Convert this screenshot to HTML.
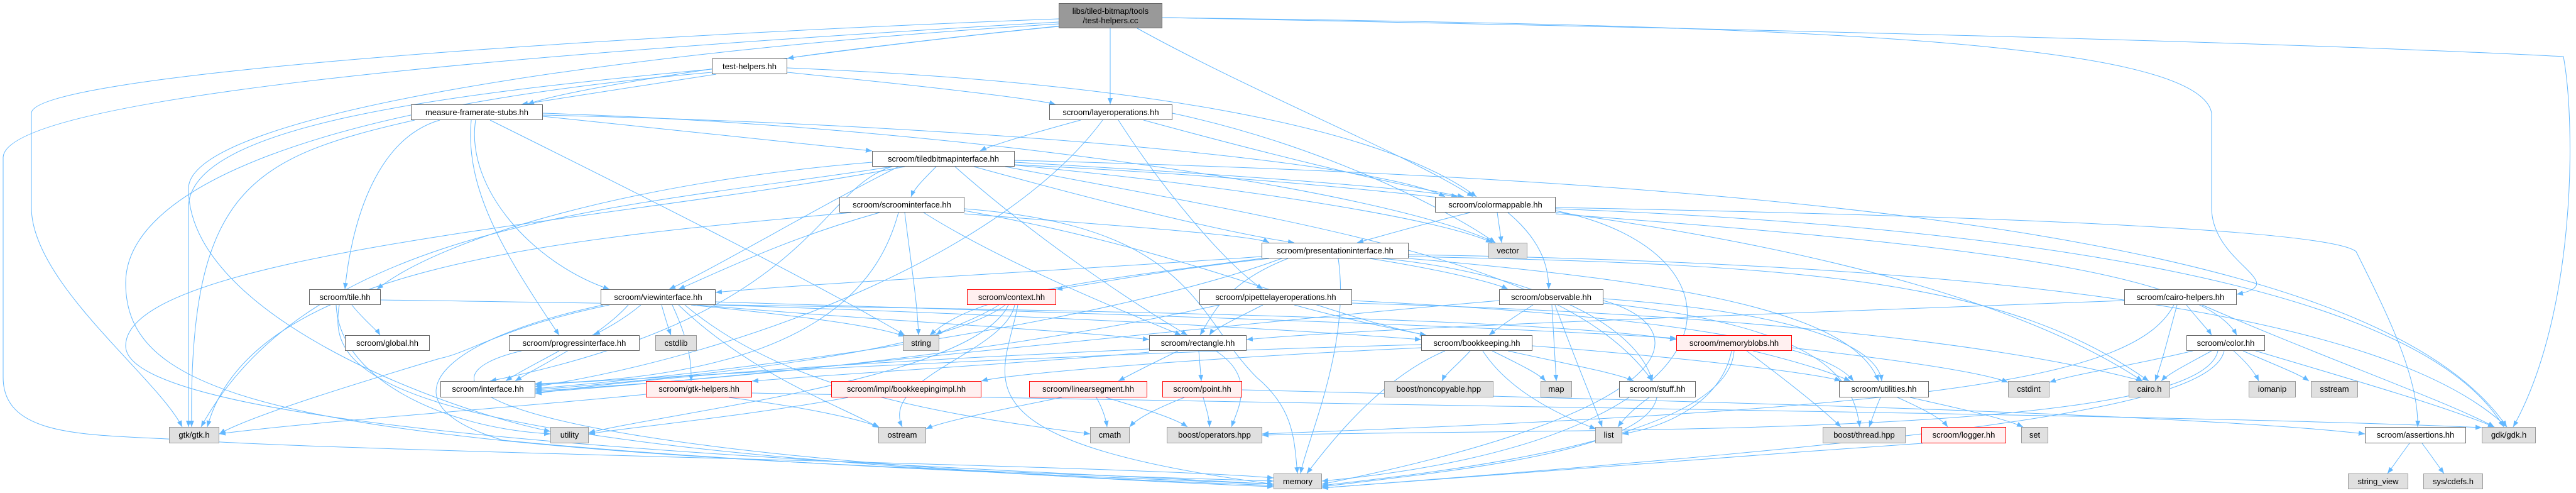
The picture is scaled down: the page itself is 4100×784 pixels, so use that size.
<!DOCTYPE html>
<html><head><meta charset="utf-8"><style>
html,body{margin:0;padding:0;background:#fff;}
#c{position:relative;width:4100px;height:784px;overflow:hidden;background:#fff;}
svg{position:absolute;left:0;top:0;}
.n{position:absolute;box-sizing:border-box;border:1px solid #666;background:#fff;font:13px "Liberation Sans",sans-serif;color:#000;text-align:center;white-space:nowrap;display:flex;align-items:center;justify-content:center;line-height:14px;}
.g{background:#e0e0e0;border-color:#999;}
.r{background:#fff0f0;border-color:#f00;}
.root{background:#999;border-color:#666;}
</style></head><body><div id="c">
<svg width="4100" height="784" viewBox="0 0 4100 784">
<defs><marker id="a" viewBox="0 0 10 10" refX="10" refY="5" markerWidth="10" markerHeight="10" markerUnits="userSpaceOnUse" orient="auto"><path d="M0,1 L10,5 L0,9 z" fill="#63b8ff"/></marker></defs>
<g fill="none" stroke="#63b8ff" stroke-width="1" marker-end="url(#a)">
<path d="M1700,40 C1500,60 1300,85 1253,93"/>
<path d="M1767,45 L1767,166"/>
<path d="M1810,45 C2000,150 2250,250 2345,313"/>
<path d="M1850,28 C2800,40 3500,60 3520,180 L3520,330 C3520,420 3650,450 3560,468"/>
<path d="M1850,28 C3000,50 3700,70 4080,90 C4100,200 4100,500 4000,679"/>
<path d="M1685,30 C900,60 50,120 50,180 L50,330 C50,450 250,600 290,679"/>
<path d="M1685,35 C900,80 10,150 5,250 L5,600 C5,700 150,690 300,700 C600,720 1800,740 2027,760"/>
<path d="M1685,38 C1000,80 300,180 300,300 C300,500 700,650 876,686"/>
<path d="M1685,42 C1300,80 900,140 840,166"/>
<path d="M1140,118 C1000,140 900,155 830,166"/>
<path d="M1253,115 C1500,140 1650,158 1680,166"/>
<path d="M1253,108 C1800,130 2200,200 2350,313"/>
<path d="M1133,110 C700,150 300,200 300,330 L300,679"/>
<path d="M1133,115 C500,170 200,300 200,450 C200,650 500,720 2027,765"/>
<path d="M864,185 C1100,210 1300,230 1388,240"/>
<path d="M700,191 C600,220 560,350 549,460"/>
<path d="M757,191 C740,300 850,420 970,460"/>
<path d="M750,191 C740,300 800,400 890,533"/>
<path d="M660,191 C400,250 300,300 305,679"/>
<path d="M780,191 C1000,300 1300,450 1440,533"/>
<path d="M864,180 C1500,200 2200,300 2380,386"/>
<path d="M864,183 C1600,200 2200,260 2300,313"/>
<path d="M1720,191 C1650,210 1580,230 1560,240"/>
<path d="M1780,191 C1850,300 1950,420 2010,460"/>
<path d="M1755,191 C1600,400 1200,560 852,615"/>
<path d="M1820,191 C2000,240 2200,290 2330,313"/>
<path d="M1866,180 C2100,230 2300,330 2380,386"/>
<path d="M1490,265 C1470,285 1455,300 1450,313"/>
<path d="M1430,265 C1300,330 1150,420 1065,460"/>
<path d="M1550,265 C1750,320 1950,370 2060,386"/>
<path d="M1520,265 C1650,380 1800,480 1890,533"/>
<path d="M1610,262 C2000,300 2300,350 2375,386"/>
<path d="M1615,255 C3000,290 3800,400 3990,679"/>
<path d="M1615,262 C2400,300 3100,400 3410,606"/>
<path d="M1388,258 C1000,290 700,380 600,460"/>
<path d="M1420,265 C1300,300 1300,500 780,606"/>
<path d="M1420,265 C1000,330 500,350 320,679"/>
<path d="M1440,265 C1000,350 200,400 200,550 C200,700 1500,740 2027,770"/>
<path d="M1600,265 C2100,360 2500,420 2630,606"/>
<path d="M1615,258 C2000,280 2250,300 2320,313"/>
<path d="M1400,338 C1250,380 1150,430 1080,460"/>
<path d="M1535,340 C1800,360 2000,375 2020,386"/>
<path d="M1470,338 C1600,420 1800,500 1880,533"/>
<path d="M1440,338 C1450,420 1460,480 1462,533"/>
<path d="M1430,338 C1400,450 1300,600 852,610"/>
<path d="M1355,338 C900,380 400,420 330,679"/>
<path d="M1535,332 C1900,360 1900,500 2000,600 C2060,650 2060,700 2065,753"/>
<path d="M1535,335 C1900,400 2100,500 2270,533"/>
<path d="M2340,338 C2250,360 2200,375 2160,386"/>
<path d="M2383,338 L2390,386"/>
<path d="M2400,338 C2450,380 2465,420 2465,460"/>
<path d="M2476,330 C3000,340 3700,360 3750,400 C3800,500 3850,600 3848,679"/>
<path d="M2476,332 C3200,360 3850,450 3985,679"/>
<path d="M2476,335 C2800,400 2800,700 2104,765"/>
<path d="M2476,340 C3000,380 3500,420 3560,533"/>
<path d="M2008,408 C1700,430 1300,450 1139,465"/>
<path d="M2020,411 C1850,430 1750,450 1681,460"/>
<path d="M2180,411 C2300,430 2380,450 2400,460"/>
<path d="M2050,411 C1950,450 1930,500 1910,533"/>
<path d="M2130,411 C2150,550 2080,700 2070,753"/>
<path d="M2008,411 C1700,450 1550,470 1480,533"/>
<path d="M2040,411 C1800,500 1300,580 852,618"/>
<path d="M2242,405 C3200,420 3800,500 3990,679"/>
<path d="M2242,408 C2900,420 3200,450 3420,606"/>
<path d="M2242,411 C2700,450 2950,500 2990,606"/>
<path d="M2200,411 C2400,430 2600,500 2630,606"/>
<path d="M1590,485 C1550,510 1500,525 1490,533"/>
<path d="M1600,485 C1500,560 1100,600 852,620"/>
<path d="M1615,485 C1600,560 1400,600 1436,679"/>
<path d="M1605,485 C1550,600 1100,650 937,688"/>
<path d="M1620,485 C1600,600 1500,700 2027,770"/>
<path d="M2010,485 C1960,510 1930,525 1925,533"/>
<path d="M1940,485 C1600,560 1200,600 852,622"/>
<path d="M2060,485 C2150,510 2230,525 2270,533"/>
<path d="M2152,478 C2600,500 2900,540 2950,606"/>
<path d="M2152,482 C2800,500 3200,550 3410,606"/>
<path d="M2440,485 C2400,510 2380,525 2370,533"/>
<path d="M2470,485 L2477,606"/>
<path d="M2475,485 C2510,580 2540,650 2550,679"/>
<path d="M2552,478 C2700,520 2700,650 2104,770"/>
<path d="M2552,475 C2900,500 2990,560 2995,606"/>
<path d="M2552,482 C2900,520 2950,600 2960,679"/>
<path d="M2386,478 C1900,520 1200,600 852,624"/>
<path d="M3480,485 C3500,510 3515,525 3520,533"/>
<path d="M3465,485 C3450,540 3440,580 3430,606"/>
<path d="M3505,485 C3700,570 3900,640 3970,679"/>
<path d="M3381,478 C2800,500 2200,520 1984,540"/>
<path d="M3460,485 C3400,600 3100,650 2009,690"/>
<path d="M560,485 C580,510 600,525 605,533"/>
<path d="M606,477 C1500,490 2400,500 2668,540"/>
<path d="M540,485 C520,600 600,720 2027,772"/>
<path d="M535,485 C540,600 700,680 876,690"/>
<path d="M1020,485 C990,510 960,525 945,533"/>
<path d="M1053,485 C1060,510 1065,525 1068,533"/>
<path d="M1070,485 C1100,550 1100,580 1100,606"/>
<path d="M1000,485 C950,540 860,580 820,606"/>
<path d="M1110,485 C1400,510 1700,525 1829,540"/>
<path d="M1100,485 C1300,505 1400,520 1440,535"/>
<path d="M970,485 C800,520 750,560 700,570 C600,600 400,660 349,690"/>
<path d="M1080,485 C1200,600 1350,650 1398,680"/>
<path d="M1090,485 C1250,620 1500,660 1735,690"/>
<path d="M960,485 C700,540 600,640 800,700 C1200,740 1800,760 2027,770"/>
<path d="M1139,485 C1600,500 2000,520 2262,540"/>
<path d="M1139,480 C1800,500 2400,520 2668,538"/>
<path d="M890,558 C850,580 820,595 805,606"/>
<path d="M830,558 C650,600 700,720 2027,774"/>
<path d="M2340,558 C2320,580 2300,595 2295,606"/>
<path d="M2375,558 C2420,580 2450,595 2460,606"/>
<path d="M2400,558 C2500,580 2580,595 2600,606"/>
<path d="M2439,550 C2700,570 2900,595 2930,606"/>
<path d="M2360,558 C2400,620 2480,660 2540,682"/>
<path d="M2300,558 C2200,600 2120,700 2080,753"/>
<path d="M2262,553 C1900,570 1600,595 1562,606"/>
<path d="M2262,548 C1800,560 1200,590 852,612"/>
<path d="M2790,558 C2880,580 2920,595 2945,606"/>
<path d="M2756,558 C2740,640 2650,680 2582,690"/>
<path d="M2760,558 C2750,700 2300,750 2104,772"/>
<path d="M2780,558 C2850,610 2900,650 2930,679"/>
<path d="M2852,553 C3000,570 3150,590 3196,608"/>
<path d="M3490,558 C3400,580 3300,595 3262,608"/>
<path d="M3520,558 C3480,580 3450,595 3440,606"/>
<path d="M3555,558 C3580,580 3590,595 3595,606"/>
<path d="M3570,558 C3620,580 3660,595 3675,606"/>
<path d="M3590,558 C3800,620 3900,650 3970,679"/>
<path d="M3530,558 C3500,700 2500,680 2009,692"/>
<path d="M3540,558 C3520,650 3100,700 2104,776"/>
<path d="M1875,558 C1830,580 1800,595 1780,606"/>
<path d="M1908,558 L1912,606"/>
<path d="M1935,558 C2000,600 1970,650 1960,679"/>
<path d="M1829,555 C1500,570 1100,590 852,626"/>
<path d="M1829,560 C1600,580 1400,590 1197,606"/>
<path d="M1028,627 C800,650 500,670 349,690"/>
<path d="M1160,632 C1300,650 1380,670 1400,680"/>
<path d="M1197,625 C2500,650 3500,660 3950,680"/>
<path d="M1350,632 C1200,660 1000,680 937,690"/>
<path d="M1745,632 C1755,650 1760,665 1762,679"/>
<path d="M1760,632 C1820,650 1870,665 1890,679"/>
<path d="M1690,632 C1600,650 1500,670 1474,682"/>
<path d="M1885,632 C1840,650 1810,665 1798,679"/>
<path d="M1915,632 C1920,650 1925,665 1925,679"/>
<path d="M1977,620 C2800,640 3500,660 3764,690"/>
<path d="M2625,632 C2600,650 2585,665 2575,679"/>
<path d="M2637,632 C2620,720 2300,750 2104,774"/>
<path d="M2993,632 C2985,650 2980,665 2975,679"/>
<path d="M3020,632 C3060,650 3090,665 3100,679"/>
<path d="M3040,632 C3120,650 3190,665 3220,679"/>
<path d="M3060,705 C2700,730 2300,760 2104,776"/>
<path d="M3835,705 C3820,725 3810,740 3800,753"/>
<path d="M3855,705 C3870,725 3880,740 3890,753"/>
</g></svg>
<div class="n root" style="left:1685px;top:5px;width:165px;height:40px;line-height:15px">libs/tiled-bitmap/tools<br>/test-helpers.cc</div>
<div class="n" style="left:1133px;top:93px;width:120px;height:25px">test-helpers.hh</div>
<div class="n" style="left:654px;top:166px;width:210px;height:25px">measure-framerate-stubs.hh</div>
<div class="n" style="left:1670px;top:166px;width:196px;height:25px">scroom/layeroperations.hh</div>
<div class="n" style="left:1388px;top:240px;width:227px;height:25px">scroom/tiledbitmapinterface.hh</div>
<div class="n" style="left:1336px;top:313px;width:199px;height:25px">scroom/scroominterface.hh</div>
<div class="n" style="left:2284px;top:313px;width:192px;height:25px">scroom/colormappable.hh</div>
<div class="n" style="left:2008px;top:386px;width:234px;height:25px">scroom/presentationinterface.hh</div>
<div class="n g" style="left:2369px;top:386px;width:62px;height:25px">vector</div>
<div class="n" style="left:492px;top:460px;width:114px;height:25px">scroom/tile.hh</div>
<div class="n" style="left:956px;top:460px;width:183px;height:25px">scroom/viewinterface.hh</div>
<div class="n r" style="left:1539px;top:460px;width:142px;height:25px">scroom/context.hh</div>
<div class="n" style="left:1909px;top:460px;width:243px;height:25px">scroom/pipettelayeroperations.hh</div>
<div class="n" style="left:2386px;top:460px;width:166px;height:25px">scroom/observable.hh</div>
<div class="n" style="left:3381px;top:460px;width:179px;height:25px">scroom/cairo-helpers.hh</div>
<div class="n" style="left:549px;top:533px;width:135px;height:25px">scroom/global.hh</div>
<div class="n" style="left:810px;top:533px;width:208px;height:25px">scroom/progressinterface.hh</div>
<div class="n g" style="left:1043px;top:533px;width:66px;height:25px">cstdlib</div>
<div class="n g" style="left:1437px;top:533px;width:58px;height:25px">string</div>
<div class="n" style="left:1829px;top:533px;width:155px;height:25px">scroom/rectangle.hh</div>
<div class="n" style="left:2262px;top:533px;width:177px;height:25px">scroom/bookkeeping.hh</div>
<div class="n r" style="left:2668px;top:533px;width:184px;height:25px">scroom/memoryblobs.hh</div>
<div class="n" style="left:3480px;top:533px;width:125px;height:25px">scroom/color.hh</div>
<div class="n" style="left:701px;top:606px;width:151px;height:26px">scroom/interface.hh</div>
<div class="n r" style="left:1028px;top:606px;width:169px;height:26px">scroom/gtk-helpers.hh</div>
<div class="n r" style="left:1323px;top:606px;width:239px;height:26px">scroom/impl/bookkeepingimpl.hh</div>
<div class="n r" style="left:1638px;top:606px;width:188px;height:26px">scroom/linearsegment.hh</div>
<div class="n r" style="left:1850px;top:606px;width:127px;height:26px">scroom/point.hh</div>
<div class="n g" style="left:2203px;top:606px;width:174px;height:26px">boost/noncopyable.hpp</div>
<div class="n g" style="left:2452px;top:606px;width:50px;height:26px">map</div>
<div class="n" style="left:2577px;top:606px;width:122px;height:26px">scroom/stuff.hh</div>
<div class="n" style="left:2927px;top:606px;width:143px;height:26px">scroom/utilities.hh</div>
<div class="n g" style="left:3196px;top:606px;width:66px;height:26px">cstdint</div>
<div class="n g" style="left:3388px;top:606px;width:66px;height:26px">cairo.h</div>
<div class="n g" style="left:3579px;top:606px;width:75px;height:26px">iomanip</div>
<div class="n g" style="left:3678px;top:606px;width:75px;height:26px">sstream</div>
<div class="n g" style="left:269px;top:679px;width:80px;height:26px">gtk/gtk.h</div>
<div class="n g" style="left:876px;top:679px;width:61px;height:26px">utility</div>
<div class="n g" style="left:1398px;top:679px;width:76px;height:26px">ostream</div>
<div class="n g" style="left:1735px;top:679px;width:63px;height:26px">cmath</div>
<div class="n g" style="left:1857px;top:679px;width:152px;height:26px">boost/operators.hpp</div>
<div class="n g" style="left:2539px;top:679px;width:43px;height:26px">list</div>
<div class="n g" style="left:2901px;top:679px;width:132px;height:26px">boost/thread.hpp</div>
<div class="n r" style="left:3058px;top:679px;width:135px;height:26px">scroom/logger.hh</div>
<div class="n g" style="left:3217px;top:679px;width:43px;height:26px">set</div>
<div class="n" style="left:3764px;top:679px;width:161px;height:26px">scroom/assertions.hh</div>
<div class="n g" style="left:3950px;top:679px;width:86px;height:26px">gdk/gdk.h</div>
<div class="n g" style="left:2027px;top:753px;width:77px;height:25px">memory</div>
<div class="n g" style="left:3737px;top:753px;width:96px;height:25px">string_view</div>
<div class="n g" style="left:3857px;top:753px;width:95px;height:25px">sys/cdefs.h</div>
</div></body></html>
